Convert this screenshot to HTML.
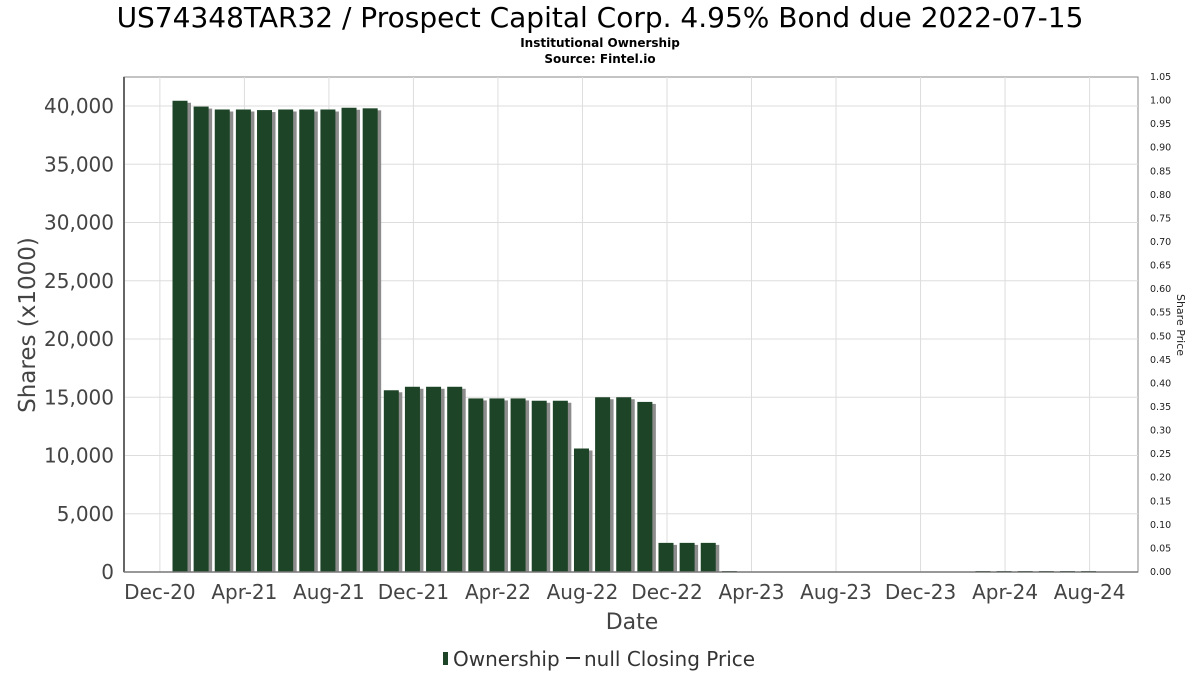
<!DOCTYPE html>
<html><head><meta charset="utf-8"><style>
body{margin:0;background:#fff;font-family:"DejaVu Sans","Liberation Sans",sans-serif;}
</style></head><body>
<svg id="c" width="1200" height="675" xmlns="http://www.w3.org/2000/svg">
<text x="600" y="27" text-anchor="middle" font-size="28" fill="#000">US74348TAR32 / Prospect Capital Corp. 4.95% Bond due 2022-07-15</text>
<text x="600" y="47" text-anchor="middle" font-size="12" font-weight="bold" fill="#000">Institutional Ownership</text>
<text x="600" y="63" text-anchor="middle" font-size="12" font-weight="bold" fill="#000">Source: Fintel.io</text>
<g id="grid"></g><g id="bars"></g><g id="axes"></g>
<text transform="translate(35,325) rotate(-90)" text-anchor="middle" font-size="23" fill="#444">Shares (x1000)</text>
<text transform="translate(1177,325) rotate(90)" text-anchor="middle" font-size="11" fill="#222">Share Price</text>
<text x="632" y="629" text-anchor="middle" font-size="22" fill="#444">Date</text>
<g>
<rect x="443" y="652" width="5" height="13" fill="#1d4427"/>
<text x="453" y="666" font-size="20" fill="#333">Ownership</text>
<line x1="566" y1="658" x2="580" y2="658" stroke="#333" stroke-width="2"/>
<text x="584" y="666" font-size="20" fill="#333">null Closing Price</text>
</g>
</svg>
<script>
const months=["Jan-21","Feb-21","Mar-21","Apr-21","May-21","Jun-21","Jul-21","Aug-21","Sep-21","Oct-21","Nov-21","Dec-21","Jan-22","Feb-22","Mar-22","Apr-22","May-22","Jun-22","Jul-22","Aug-22","Sep-22","Oct-22","Nov-22","Dec-22","Jan-23","Feb-23","Mar-23","Apr-23","May-23","Jun-23","Jul-23","Aug-23","Sep-23","Oct-23","Nov-23","Dec-23","Jan-24","Feb-24","Mar-24","Apr-24","May-24","Jun-24","Jul-24","Aug-24"];
const shares=[40450,39950,39700,39700,39650,39700,39700,39700,39850,39800,15600,15900,15900,15900,14900,14900,14900,14700,14700,10600,15000,15000,14600,2500,2500,2500,60,0,0,0,0,0,0,0,0,0,0,0,60,60,60,60,60,60];
const yTicks=[0,5000,10000,15000,20000,25000,30000,35000,40000];
const y2Ticks=[0,0.05,0.1,0.15,0.2,0.25,0.3,0.35,0.4,0.45,0.5,0.55,0.6,0.65,0.7,0.75,0.8,0.85,0.9,0.95,1.0,1.05];
const xTickLabels=["Dec-20","Apr-21","Aug-21","Dec-21","Apr-22","Aug-22","Dec-22","Apr-23","Aug-23","Dec-23","Apr-24","Aug-24"];
const L=124,R=1138,T=77,B=572;
const y=v=>B-(v/40000)*466;
const y2=v=>B-(v/1.05)*(B-T);
const x=i=>177+21.13*i;
const ns="http://www.w3.org/2000/svg";
function mk(p,t,a){const e=document.createElementNS(ns,t);for(const k in a)e.setAttribute(k,a[k]);document.getElementById(p).appendChild(e);return e;}
const bg=mk("grid","rect",{x:L,y:T,width:R-L,height:B-T,fill:"#fff",stroke:"#888"});


yTicks.forEach(v=>{
 const g=mk("grid","line",{x1:L,x2:R,y1:y(v),y2:y(v),stroke:"#ddd"});
 
 
 const t=mk("axes","text",{x:114,y:y(v)+7,"text-anchor":"end","font-size":20,fill:"#444"});
 t.textContent=v.toLocaleString("en-US");
 
 
});
xTickLabels.forEach((s,k)=>{
 const xx=x(-1+4*k)+4;
 const g=mk("grid","line",{x1:xx,x2:xx,y1:T,y2:B,stroke:"#ddd"});
 
 
 const t=mk("axes","text",{x:xx,y:599,"text-anchor":"middle","font-size":20,fill:"#444"});
 t.textContent=s;
 
 
});
y2Ticks.forEach(v=>{
 const t=mk("axes","text",{x:1150,y:y2(v)+3,"font-size":9.5,fill:"#222"});
 t.textContent=v.toFixed(2);
 
 
});
shares.forEach((v,i)=>{
 if(v<=0)return;
 const h=Math.max(B-y(v),1);
 const s=mk("bars","rect",{x:x(i)-1,y:B-h+2,width:15,height:h-2,fill:"#8c8c8c"});
 
 
 const r=mk("bars","rect",{x:x(i)-4.5,y:B-h,width:15,height:h,fill:"#1d4427"});
 
 
});
const ax=mk("axes","line",{x1:L,x2:L,y1:T,y2:B,stroke:"#666","stroke-width":2});


const bx=mk("axes","line",{x1:L,x2:R,y1:B,y2:B,stroke:"#777","stroke-width":1.5});


</script>
</body></html>
